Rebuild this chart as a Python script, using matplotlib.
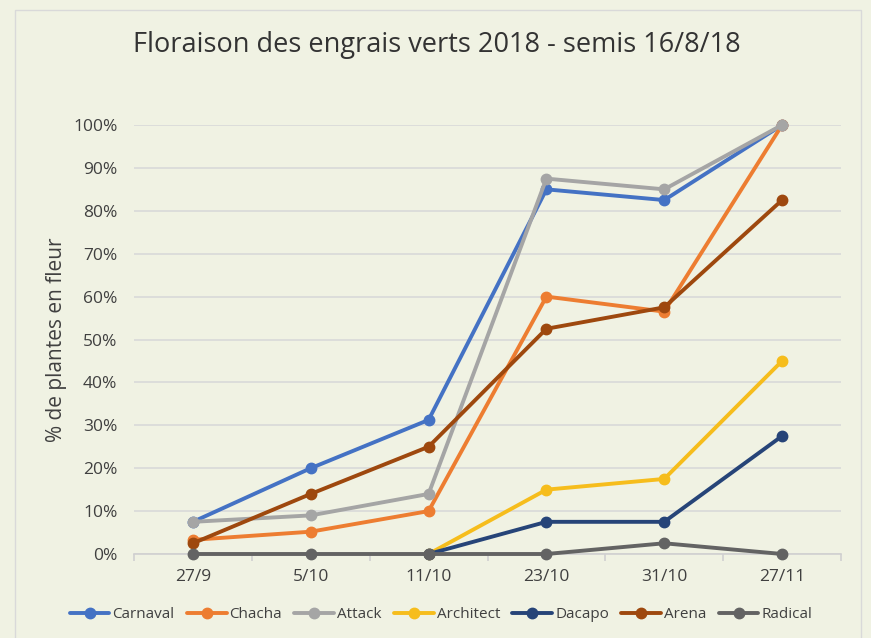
import matplotlib
matplotlib.use('Agg')
import matplotlib.pyplot as plt
from matplotlib.patches import Rectangle
from matplotlib.ticker import PercentFormatter, FixedLocator

plt.rcParams['font.family'] = ['Open Sans', 'DejaVu Sans']

dates = ['27/9', '5/10', '11/10', '23/10', '31/10', '27/11']
carnaval = [7.5, 20, 31.25, 85, 82.5, 100]
chacha = [3.3, 5.2, 10, 60, 56.5, 100]
attack = [7.5, 9, 14, 87.5, 85, 100]
architect = [None, None, 0, 15, 17.5, 45]
dacapo = [None, None, 0, 7.5, 7.5, 27.5]
arena = [2.5, 14, 25, 52.5, 57.5, 82.5]
radical = [0, 0, 0, 0, 2.5, 0]

series = [
    ('Carnaval', carnaval, '#4472C4'),
    ('Chacha', chacha, '#ED7D31'),
    ('Attack', attack, '#A5A5A5'),
    ('Architect', architect, '#F6BD1C'),
    ('Dacapo', dacapo, '#264478'),
    ('Arena', arena, '#9E480E'),
    ('Radical', radical, '#636363'),
]

bg = '#F0F2E3'
fig = plt.figure(figsize=(8.71, 6.38), dpi=100, facecolor=bg)
fig.patches.append(Rectangle((15 / 871, -0.05), 846 / 871, 1 - 10 / 638 + 0.05,
                             transform=fig.transFigure, fill=False,
                             edgecolor='#D9D9D9', lw=1))
ax = fig.add_axes([134 / 871, 1 - 554 / 638, 707 / 871, 429 / 638])
ax.set_facecolor(bg)

x = list(range(len(dates)))
for i, (name, vals, col) in enumerate(series):
    xs = [xi for xi, v in zip(x, vals) if v is not None]
    ys = [v / 100 for v in vals if v is not None]
    ax.plot(xs, ys, color=col, lw=2.8, marker='o', ms=7.5, label=name,
            clip_on=False, zorder=3 + i, solid_capstyle='round')

ax.set_xlim(-0.5, len(dates) - 0.5)
ax.set_ylim(0, 1)
ax.set_yticks([i / 10 for i in range(11)])
ax.yaxis.set_major_formatter(PercentFormatter(1.0, decimals=0))
ax.grid(axis='y', color='#D9D9D9', lw=1.2)
ax.set_axisbelow(True)
for s in ['top', 'right', 'left']:
    ax.spines[s].set_visible(False)
ax.spines['bottom'].set_color('#D0D0D0')
ax.spines['bottom'].set_linewidth(1.2)
ax.set_xticks(x)
ax.set_xticklabels(dates)
ax.xaxis.set_minor_locator(FixedLocator([i - 0.5 for i in range(len(dates) + 1)]))
ax.tick_params(axis='x', which='major', length=0, pad=11, labelsize=12.5, labelcolor='#404040')
ax.tick_params(axis='x', which='minor', length=5, color='#D0D0D0', width=1.2)
ax.tick_params(axis='y', length=0, pad=12, labelsize=12.5, labelcolor='#404040')

ax.set_ylabel('% de plantes en fleur', fontsize=15, color='#404040', labelpad=4)
fig.text(437 / 871, 1 - 45 / 638, 'Floraison des engrais verts 2018 - semis 16/8/18',
         ha='center', va='center', fontsize=19.5, color='#333333')

leg = fig.legend(loc='center', bbox_to_anchor=(441 / 871, 1 - 615 / 638), ncol=7,
                 frameon=False, fontsize=11, handlelength=2.6, handletextpad=0.2,
                 columnspacing=0.8)
for t in leg.get_texts():
    t.set_color('#404040')

fig.savefig('out.png', dpi=100, facecolor=bg)
